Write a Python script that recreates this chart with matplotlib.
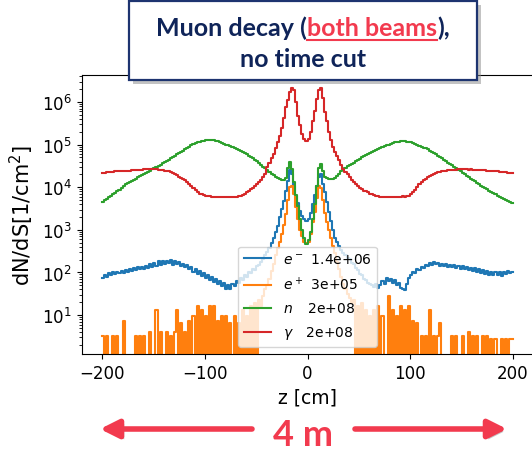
import numpy as np
import matplotlib
matplotlib.use("Agg")
import matplotlib.pyplot as plt
from matplotlib.patches import Rectangle, FancyArrowPatch
from matplotlib.lines import Line2D
import matplotlib.patheffects as pe

# ---------------- data ----------------
z_min_cm, z_max_cm, bin_width_cm = -200, 200, 2
particle_labels = ["$e^-$", "$e^+$", "$n$", r"$\gamma$"]
legend_totals = ["1.4e+06", "3e+05", "2e+08", "2e+08"]

# log10(dN/dS) per 2 cm bin, z from -200 to 200
e_minus_log10 = [
    1.86, 1.95, 1.90, 1.98, 1.93, 2.01, 1.96, 2.02, 1.99, 2.04,
    1.98, 2.06, 2.02, 2.09, 2.03, 2.10, 2.05, 2.12, 2.07, 2.13,
    2.08, 2.15, 2.10, 2.19, 2.12, 2.22, 2.16, 2.26, 2.18, 2.27,
    2.20, 2.28, 2.22, 2.30, 2.18, 2.27, 2.21, 2.25, 2.16, 2.20,
    2.12, 2.18, 2.08, 2.13, 2.02, 2.08, 1.97, 2.03, 1.92, 1.98,
    1.88, 1.93, 1.82, 1.90, 1.78, 1.84, 1.72, 1.80, 1.68, 1.75,
    1.62, 1.70, 1.60, 1.72, 1.68, 1.80, 1.76, 1.86, 1.82, 1.93,
    1.90, 2.00, 1.98, 2.08, 2.05, 2.15, 2.18, 2.25, 2.32, 2.40,
    2.48, 2.58, 2.68, 2.80, 2.95, 3.10, 3.30, 3.48, 3.68, 3.90,
    4.15, 4.40, 4.30, 4.02, 3.80, 3.62, 3.45, 3.33, 3.25, 3.20,
    3.25, 3.40, 3.60, 3.82, 4.03, 4.25, 4.30, 4.08, 3.89, 3.65,
    3.42, 3.20, 3.00, 2.82, 2.72, 2.62, 2.52, 2.45, 2.40, 2.34,
    2.31, 2.22, 2.19, 2.10, 2.06, 1.96, 1.93, 1.84, 1.83, 1.76,
    1.74, 1.70, 1.66, 1.72, 1.64, 1.70, 1.80, 1.74, 1.86, 1.80,
    1.85, 1.76, 1.82, 1.70, 1.76, 1.64, 1.62, 1.58, 1.72, 1.88,
    1.95, 2.02, 1.98, 2.08, 2.05, 2.13, 2.10, 2.18, 2.14, 2.22,
    2.17, 2.24, 2.19, 2.22, 2.15, 2.21, 2.14, 2.19, 2.12, 2.18,
    2.13, 2.17, 2.11, 2.15, 2.08, 2.14, 2.07, 2.12, 2.06, 2.10,
    2.04, 2.10, 2.02, 2.08, 1.98, 2.06, 1.97, 2.03, 1.94, 2.00,
    1.93, 2.00, 1.95, 2.01, 1.92, 2.02, 1.96, 2.04, 1.98, 2.02,
]

# dN/dS per 2 cm bin (zero = empty bin)
e_plus_values = [
    3.2, 0, 3.2, 0, 0, 3.2, 0, 3.2, 0, 0,
    7.2, 0, 0, 0, 0, 0, 3.2, 0, 3.2, 0,
    3.2, 0, 0, 4, 0, 0, 12.8, 0, 4, 0,
    0, 4, 0, 3.2, 0, 4, 12.8, 0, 6.4, 0,
    4, 0, 7.2, 0, 9.6, 0, 16, 0, 12.8, 0,
    9.6, 0, 16, 0, 16, 0, 7.2, 0, 9.6, 0,
    9.6, 0, 6.4, 0, 9.6, 0, 6.4, 0, 12.8, 0,
    9.6, 0, 16, 0, 19, 0, 22, 16, 28, 40,
    50, 70, 110, 160, 250, 380, 520, 800, 1300, 2400,
    5000, 10000, 10500, 7000, 3500, 1800, 1000, 700, 520, 480,
    520, 800, 1500, 2600, 5500, 10500, 9500, 5000, 2500, 1500,
    1000, 650, 420, 280, 180, 120, 80, 55, 40, 32,
    25, 19, 22, 0, 16, 0, 19, 0, 12.8, 0,
    9.6, 0, 12.8, 0, 16, 0, 9.6, 0, 0, 28,
    0, 12.8, 0, 9.6, 0, 16, 0, 12.8, 0, 16,
    0, 7.2, 0, 6.4, 0, 3.2, 0, 3.2, 0, 12.8,
    0, 3.2, 0, 3.2, 6.4, 0, 0, 0, 0, 0,
    3.2, 0, 3.2, 0, 0, 3.2, 0, 0, 4, 0,
    3.2, 0, 3.2, 0, 0, 3.2, 0, 3.2, 0, 2.8,
    0, 2.8, 0, 0, 2.8, 0, 2.8, 0, 2.8, 2.8,
]

neutron_log10 = [
    3.66, 3.70, 3.73, 3.77, 3.80, 3.84, 3.87, 3.91, 3.94, 3.98,
    4.04, 4.07, 4.10, 4.12, 4.15, 4.18, 4.20, 4.23, 4.26, 4.28,
    4.31, 4.34, 4.36, 4.39, 4.42, 4.44, 4.47, 4.50, 4.53, 4.56,
    4.59, 4.62, 4.65, 4.68, 4.71, 4.74, 4.77, 4.80, 4.83, 4.86,
    4.89, 4.92, 4.95, 4.98, 5.01, 5.03, 5.05, 5.07, 5.08, 5.09,
    5.10, 5.11, 5.11, 5.11, 5.10, 5.09, 5.08, 5.06, 5.04, 5.02,
    5.00, 4.98, 4.96, 4.94, 4.92, 4.90, 4.88, 4.85, 4.82, 4.80,
    4.77, 4.74, 4.71, 4.68, 4.65, 4.61, 4.57, 4.53, 4.48, 4.44,
    4.40, 4.36, 4.32, 4.28, 4.25, 4.22, 4.19, 4.17, 4.16, 4.22,
    4.45, 4.60, 4.42, 4.12, 3.82, 3.55, 3.25, 3.00, 2.80, 2.67,
    2.75, 2.95, 3.25, 3.60, 4.03, 4.45, 4.55, 4.38, 4.25, 4.21,
    4.20, 4.19, 4.19, 4.22, 4.26, 4.31, 4.37, 4.43, 4.46, 4.49,
    4.52, 4.55, 4.58, 4.61, 4.64, 4.67, 4.70, 4.73, 4.76, 4.79,
    4.81, 4.83, 4.86, 4.88, 4.90, 4.92, 4.94, 4.96, 4.98, 5.00,
    5.02, 5.03, 5.05, 5.06, 5.07, 5.08, 5.08, 5.08, 5.07, 5.06,
    5.05, 5.03, 5.01, 4.99, 4.97, 4.95, 4.93, 4.91, 4.89, 4.86,
    4.83, 4.80, 4.77, 4.74, 4.71, 4.68, 4.65, 4.61, 4.58, 4.55,
    4.52, 4.48, 4.45, 4.41, 4.37, 4.34, 4.30, 4.27, 4.23, 4.20,
    4.17, 4.14, 4.11, 4.07, 4.04, 4.01, 3.98, 3.95, 3.92, 3.89,
    3.86, 3.83, 3.80, 3.77, 3.75, 3.72, 3.70, 3.68, 3.65, 3.63,
]

gamma_log10 = [
    4.33, 4.34, 4.35, 4.35, 4.36, 4.36, 4.37, 4.37, 4.37, 4.38,
    4.38, 4.38, 4.39, 4.39, 4.40, 4.40, 4.40, 4.41, 4.41, 4.41,
    4.42, 4.42, 4.42, 4.43, 4.43, 4.42, 4.42, 4.41, 4.41, 4.40,
    4.39, 4.38, 4.37, 4.35, 4.33, 4.31, 4.28, 4.25, 4.22, 4.19,
    4.16, 4.12, 4.08, 4.03, 3.98, 3.93, 3.88, 3.85, 3.83, 3.81,
    3.80, 3.79, 3.79, 3.78, 3.78, 3.78, 3.77, 3.78, 3.77, 3.77,
    3.77, 3.77, 3.78, 3.77, 3.78, 3.78, 3.79, 3.80, 3.82, 3.85,
    3.88, 3.91, 3.95, 3.99, 4.03, 4.07, 4.12, 4.18, 4.24, 4.31,
    4.47, 4.57, 4.68, 4.79, 4.92, 5.05, 5.20, 5.40, 5.62, 5.88,
    6.05, 6.23, 6.33, 6.28, 6.00, 5.67, 5.45, 5.25, 5.13, 5.08,
    5.12, 5.30, 5.55, 5.80, 6.07, 6.28, 6.32, 6.10, 5.76, 5.55,
    5.30, 5.10, 4.95, 4.82, 4.73, 4.63, 4.53, 4.43, 4.36, 4.30,
    4.24, 4.18, 4.12, 4.07, 4.02, 3.98, 3.95, 3.92, 3.90, 3.88,
    3.85, 3.83, 3.81, 3.80, 3.79, 3.78, 3.77, 3.77, 3.77, 3.78,
    3.78, 3.77, 3.78, 3.78, 3.77, 3.78, 3.79, 3.78, 3.79, 3.80,
    3.83, 3.88, 3.94, 4.01, 4.07, 4.12, 4.16, 4.20, 4.23, 4.26,
    4.29, 4.31, 4.33, 4.35, 4.36, 4.37, 4.38, 4.39, 4.40, 4.40,
    4.41, 4.41, 4.41, 4.42, 4.42, 4.42, 4.42, 4.42, 4.41, 4.42,
    4.41, 4.41, 4.41, 4.40, 4.40, 4.40, 4.40, 4.39, 4.39, 4.38,
    4.38, 4.37, 4.37, 4.36, 4.36, 4.35, 4.35, 4.34, 4.34, 4.33,
]

# ---------------- figure ----------------
W, H, DPI = 532, 452, 100
fig = plt.figure(figsize=(W / DPI, H / DPI), dpi=DPI)
fig.patch.set_facecolor("white")

ax = fig.add_axes([81.5 / W, 1 - 355 / H, 452 / W, 279 / H])

z_edges = np.arange(z_min_cm, z_max_cm + bin_width_cm / 2, bin_width_cm)
series = [
    10 ** np.array(e_minus_log10),
    np.array(e_plus_values, dtype=float),
    10 ** np.array(neutron_log10),
    10 ** np.array(gamma_log10),
]
colors = ["#1f77b4", "#ff7f0e", "#2ca02c", "#d62728"]

# legend labels: particle symbol padded so that totals line up in a column
leg_fs = 10
probe = [fig.text(0, 0, lab, fontsize=leg_fs) for lab in particle_labels]
unit_probe = fig.text(0, 0, r"$\hspace{1}$x", fontsize=leg_fs)
x_probe = fig.text(0, 0, "x", fontsize=leg_fs)
fig.canvas.draw()
rend = fig.canvas.get_renderer()
pw = [t.get_window_extent(rend).width for t in probe]
unit = unit_probe.get_window_extent(rend).width - x_probe.get_window_extent(rend).width
for t in probe + [unit_probe, x_probe]:
    t.remove()
gap_px = 7
padded = [lab[:-1] + r"\hspace{%.3f}$" % ((max(pw) - w + gap_px) / unit) for lab, w in zip(particle_labels, pw)]

for vals, col, lab, tot in zip(series, colors, padded, legend_totals):
    ax.step(z_edges, np.append(vals, vals[-1]), where="post", color=col, lw=1.5,
            label=f"{lab}{tot}")

ax.set_yscale("log", nonpositive="clip")
ax.set_xlim(-220, 220)
ax.set_ylim(1.22, 4.3e6)
ax.set_xticks([-200, -100, 0, 100, 200])
ax.tick_params(labelsize=12)
ax.set_xlabel("z [cm]", fontsize=13.5)
ax.set_ylabel("dN/dS[1/cm$^2$]", fontsize=15)
ax.legend(loc="lower center", fontsize=leg_fs, labelspacing=0.65)

# ---------------- title box ----------------
navy = "#0f2459"
red = "#f23a4e"
box = Rectangle((129 / W, 1 - 81 / H), 348 / W, 79 / H, transform=fig.transFigure,
                facecolor="white", edgecolor="#1d3470", lw=1.6, zorder=5,
                path_effects=[pe.SimplePatchShadow(offset=(3, -3), shadow_rgbFace="#888888", alpha=0.5),
                              pe.Normal()])
fig.patches.append(box)

title_fs = 18
parts = [("Muon decay (", navy), ("both beams", red), ("),", navy)]
y_line1 = 1 - 36 / H
texts = []
for s, c in parts:
    t = fig.text(0, y_line1, s, color=c, fontsize=title_fs, fontweight="bold",
                 family=["Lato", "DejaVu Sans"], va="baseline", ha="left", zorder=6)
    texts.append(t)
fig.text(303 / W, 1 - 67 / H, "no time cut", color=navy, fontsize=title_fs,
         fontweight="bold", family=["Lato", "DejaVu Sans"], va="baseline",
         ha="center", zorder=6)

fig.canvas.draw()
renderer = fig.canvas.get_renderer()
widths = [t.get_window_extent(renderer).width for t in texts]
x = 303 - sum(widths) / 2
starts = []
for t, w in zip(texts, widths):
    t.set_x(x / W)
    starts.append(x)
    x += w
ul_x0, ul_x1 = starts[1], starts[1] + widths[1]
fig.lines.append(Line2D([ul_x0 / W, ul_x1 / W], [1 - 40.5 / H, 1 - 40.5 / H],
                        transform=fig.transFigure, color=red, lw=1.5, zorder=6))

# ---------------- 4 m annotation ----------------
arrow_y = 1 - 430 / H
shadow = [pe.SimplePatchShadow(offset=(2, -2), shadow_rgbFace="#888888", alpha=0.5), pe.Normal()]
for x_tail, x_head in [(252, 100), (355, 507)]:
    arr = FancyArrowPatch((x_tail / W, arrow_y), (x_head / W, arrow_y),
                          transform=fig.transFigure,
                          arrowstyle="-|>,head_length=1.1,head_width=0.55",
                          mutation_scale=10, lw=4, color=red,
                          shrinkA=0, shrinkB=0, path_effects=shadow)
    fig.patches.append(arr)
fig.text(303 / W, 1 - 446 / H, "4 m", color=red, fontsize=26, fontweight="bold",
         family=["Lato", "DejaVu Sans"], ha="center", va="baseline")

fig.savefig("out.png", dpi=DPI)
